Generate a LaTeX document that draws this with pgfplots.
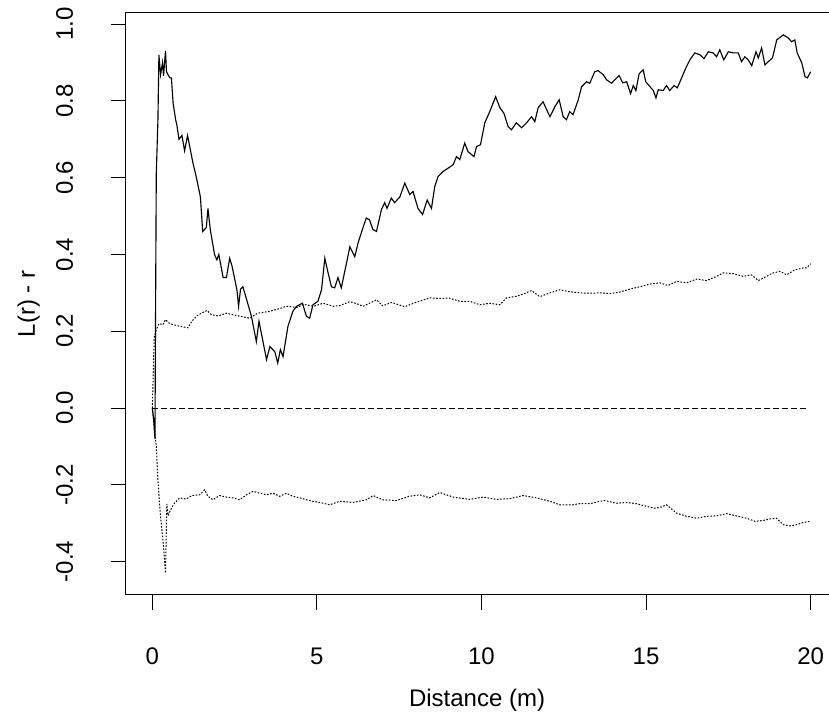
\documentclass[border=0pt]{standalone}
\usepackage{pgfplots}
\pgfplotsset{compat=1.18}
\usepackage{fontspec}
\setmainfont{Liberation Sans}
\begin{document}
\fontsize{18}{21}\selectfont
\begin{tikzpicture}
\useasboundingbox (0,0) rectangle (621.75pt,534.75pt);
\clip (0,0) rectangle (621.75pt,534.75pt);
\begin{axis}[
  at={(94.5pt,88.5pt)}, anchor=south west,
  scale only axis, width=533.25pt, height=436.5pt,
  xmin=-0.8, xmax=20.8, ymin=-0.487, ymax=1.029,
  xtick={0,5,10,15,20}, xticklabels={0,5,10,15,20},
  ytick={-0.4,-0.2,0,0.2,0.4,0.6,0.8,1.0},
  yticklabels={-0.4,-0.2,0.0,0.2,0.4,0.6,0.8,1.0},
  xtick pos=left, ytick pos=left,
  tick align=outside, major tick length=11.25pt,
  tick style={black, line width=0.75pt},
  axis line style={black, line width=0.75pt},
  xticklabel style={anchor=north, inner sep=0pt, outer ysep=28.5pt},
  yticklabel style={rotate=90, anchor=south, inner sep=0pt, outer ysep=28.5pt},
  xlabel={Distance (m)}, ylabel={L(r) - r},
  xlabel style={at={(axis description cs:0.4937,-0.1924)}, anchor=base, inner sep=0pt},
  ylabel style={at={(axis description cs:-0.128,0.5)}, anchor=base, inner sep=0pt},
]
% observed L(r)-r
\addplot[black, line width=0.85pt] coordinates {
(0,0) (0.04,-0.03) (0.08,-0.08) (0.10,0.28) (0.12,0.61) (0.17,0.75) (0.20,0.92)
(0.25,0.868) (0.31,0.90) (0.34,0.865) (0.40,0.93) (0.43,0.876) (0.53,0.86)
(0.58,0.86) (0.63,0.795) (0.71,0.75) (0.74,0.74) (0.81,0.70) (0.90,0.71)
(0.98,0.67) (1.07,0.71) (1.23,0.64) (1.34,0.60) (1.46,0.55) (1.53,0.46)
(1.64,0.47) (1.69,0.52) (1.76,0.465) (1.89,0.40) (1.96,0.386) (2.02,0.40)
(2.15,0.34) (2.25,0.34) (2.35,0.39) (2.42,0.37) (2.57,0.308) (2.62,0.265)
(2.68,0.31) (2.75,0.316) (2.84,0.29) (3.01,0.239) (3.16,0.173) (3.24,0.226)
(3.47,0.126) (3.57,0.16) (3.72,0.147) (3.81,0.117) (3.89,0.152) (3.97,0.134)
(4.02,0.16) (4.12,0.213) (4.27,0.252) (4.38,0.265) (4.56,0.273) (4.68,0.239)
(4.78,0.234) (4.88,0.269) (5.03,0.278) (5.14,0.308) (5.24,0.39) (5.34,0.352)
(5.44,0.316) (5.54,0.313) (5.64,0.34) (5.74,0.313) (5.90,0.378) (6.0,0.42)
(6.15,0.394) (6.25,0.43) (6.40,0.47) (6.5,0.495) (6.6,0.49) (6.70,0.465)
(6.81,0.46) (6.96,0.517) (7.06,0.535) (7.13,0.52) (7.26,0.547) (7.36,0.535)
(7.52,0.55) (7.67,0.586) (7.82,0.556) (7.92,0.564) (8.07,0.52) (8.21,0.504)
(8.35,0.542) (8.48,0.52) (8.58,0.577) (8.68,0.603) (8.83,0.616) (8.99,0.625)
(9.14,0.634) (9.24,0.655) (9.34,0.647) (9.49,0.69) (9.59,0.668) (9.77,0.655)
(9.85,0.681) (9.97,0.686) (10.10,0.743) (10.25,0.772) (10.43,0.811) (10.56,0.782)
(10.68,0.768) (10.81,0.733) (10.91,0.725) (11.06,0.743) (11.22,0.73) (11.37,0.743)
(11.52,0.759) (11.62,0.746) (11.72,0.782) (11.87,0.798) (11.98,0.777) (12.08,0.759)
(12.23,0.785) (12.36,0.803) (12.48,0.759) (12.58,0.751) (12.68,0.772) (12.78,0.764)
(12.94,0.803) (13.04,0.837) (13.19,0.85) (13.29,0.846) (13.44,0.876) (13.54,0.879)
(13.70,0.868) (13.80,0.855) (13.95,0.846) (14.05,0.855) (14.18,0.866) (14.29,0.847)
(14.41,0.85) (14.53,0.819) (14.61,0.84) (14.69,0.827) (14.79,0.871) (14.91,0.881)
(14.99,0.85) (15.12,0.837) (15.22,0.827) (15.30,0.808) (15.37,0.829) (15.52,0.827)
(15.62,0.84) (15.72,0.827) (15.85,0.84) (15.95,0.834) (16.08,0.86) (16.21,0.886)
(16.33,0.907) (16.48,0.925) (16.64,0.92) (16.76,0.91) (16.89,0.928) (17.04,0.925)
(17.14,0.915) (17.24,0.933) (17.36,0.907) (17.50,0.928) (17.65,0.925) (17.80,0.925)
(17.90,0.902) (18.00,0.915) (18.10,0.907) (18.21,0.892) (18.34,0.928) (18.41,0.912)
(18.51,0.938) (18.61,0.894) (18.71,0.902) (18.84,0.912) (18.97,0.959) (19.17,0.972)
(19.32,0.964) (19.42,0.954) (19.52,0.959) (19.59,0.925) (19.73,0.899) (19.83,0.863)
(19.90,0.86) (20.0,0.876)
};
% upper envelope
\addplot[black, line width=0.75pt, dash pattern=on 1.2pt off 1.2pt] coordinates {
(0,0) (0.03,0.10) (0.06,0.186) (0.12,0.204) (0.2,0.22) (0.32,0.217) (0.40,0.23)
(0.5,0.222) (0.6,0.218) (0.83,0.213) (1.08,0.209) (1.2,0.226) (1.35,0.24)
(1.49,0.247) (1.66,0.254) (1.8,0.243) (2.0,0.24) (2.25,0.247) (2.6,0.24)
(2.96,0.234) (3.2,0.247) (3.57,0.252) (3.9,0.26) (4.07,0.265) (4.4,0.262)
(4.6,0.27) (4.9,0.265) (5.19,0.273) (5.5,0.265) (5.7,0.267) (6.0,0.277)
(6.2,0.272) (6.40,0.265) (6.81,0.282) (7.0,0.266) (7.26,0.275) (7.67,0.264)
(8.0,0.275) (8.43,0.287) (8.83,0.285) (9.0,0.287) (9.34,0.278) (9.64,0.278)
(9.95,0.269) (10.25,0.273) (10.56,0.269) (10.76,0.287) (11.06,0.291) (11.27,0.297)
(11.52,0.306) (11.77,0.29) (12.08,0.30) (12.38,0.308) (12.68,0.303) (12.99,0.30)
(13.29,0.299) (13.6,0.30) (13.90,0.298) (14.2,0.302) (14.51,0.31) (14.82,0.316)
(15.12,0.323) (15.42,0.326) (15.67,0.319) (15.93,0.33) (16.23,0.326) (16.54,0.336)
(16.84,0.332) (17.14,0.343) (17.34,0.352) (17.65,0.35) (17.95,0.343) (18.2,0.347)
(18.41,0.332) (18.66,0.343) (18.86,0.352) (19.07,0.356) (19.27,0.347) (19.52,0.36)
(19.78,0.365) (19.88,0.365) (20.0,0.376)
};
% lower envelope
\addplot[black, line width=0.75pt, dash pattern=on 1.2pt off 1.2pt] coordinates {
(0,0) (0.12,-0.10) (0.17,-0.187) (0.24,-0.273) (0.34,-0.36) (0.40,-0.43)
(0.44,-0.25) (0.48,-0.28) (0.53,-0.27) (0.65,-0.25) (0.83,-0.234) (1.03,-0.237)
(1.2,-0.228) (1.44,-0.226) (1.59,-0.213) (1.69,-0.23) (1.84,-0.239) (2.04,-0.228)
(2.25,-0.232) (2.45,-0.234) (2.65,-0.239) (2.86,-0.226) (3.06,-0.217) (3.27,-0.222)
(3.47,-0.226) (3.67,-0.222) (3.87,-0.23) (4.07,-0.222) (4.28,-0.23) (4.48,-0.234)
(4.68,-0.239) (4.88,-0.243) (5.09,-0.246) (5.39,-0.252) (5.69,-0.243) (6.1,-0.246)
(6.5,-0.239) (6.71,-0.228) (7.0,-0.239) (7.4,-0.241) (7.8,-0.23) (8.12,-0.226)
(8.43,-0.234) (8.73,-0.22) (9.14,-0.232) (9.64,-0.238) (10.05,-0.232) (10.46,-0.238)
(10.86,-0.236) (11.27,-0.228) (11.67,-0.234) (12.08,-0.243) (12.38,-0.252) (12.78,-0.252)
(12.99,-0.249) (13.3,-0.249) (13.6,-0.243) (13.75,-0.241) (14.1,-0.248) (14.4,-0.246)
(14.7,-0.249) (15.01,-0.256) (15.26,-0.261) (15.46,-0.258) (15.62,-0.252) (15.93,-0.274)
(16.23,-0.282) (16.54,-0.287) (16.84,-0.282) (17.14,-0.281) (17.45,-0.275) (17.75,-0.281)
(18.05,-0.287) (18.31,-0.295) (18.56,-0.293) (18.76,-0.289) (18.96,-0.287) (19.17,-0.304)
(19.37,-0.307) (19.57,-0.304) (19.78,-0.298) (20.0,-0.295)
};
% theoretical
\addplot[black, line width=0.75pt, dash pattern=on 4.5pt off 2.25pt] coordinates {(0,0) (19.9,0)};
\end{axis}
\end{tikzpicture}
\end{document}
